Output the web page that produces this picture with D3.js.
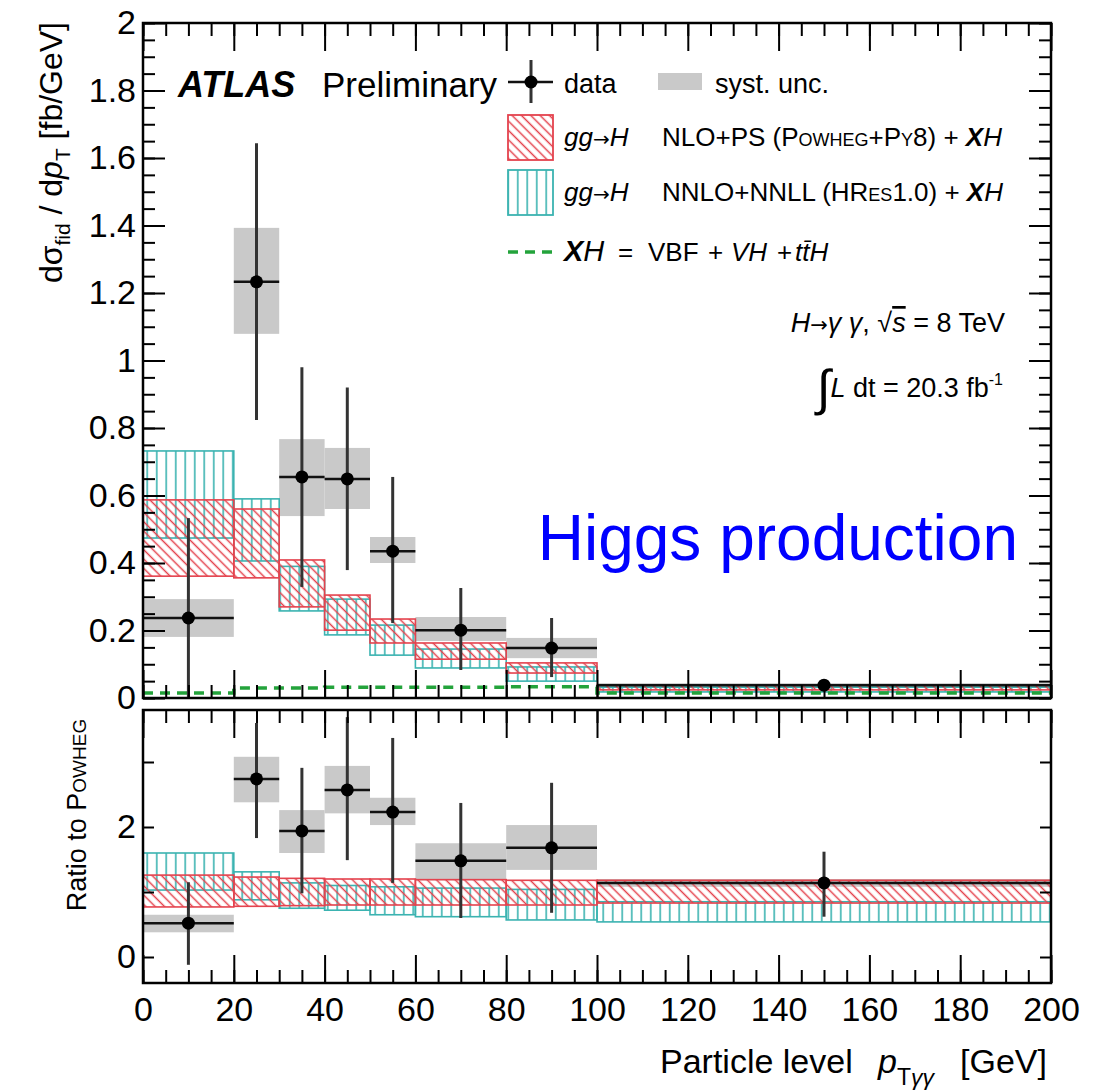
<!DOCTYPE html>
<html>
<head>
<meta charset="utf-8">
<script src="https://cdn.jsdelivr.net/npm/d3@7"></script>
<style>
body { margin: 0; background: #fff; }
text { font-family: "Liberation Sans", Arial, Helvetica, sans-serif; }
</style>
</head>
<body>
<svg id="chart" width="1105" height="1091"></svg>
<script>
// pT bins (GeV)
const binEdges = [0, 20, 30, 40, 50, 60, 80, 100, 200];

// upper panel: d sigma / d pT [fb/GeV]
const dataVal  = [0.237, 1.233, 0.655, 0.649, 0.435, 0.201, 0.148, 0.038];
const statLo   = [-0.05, 0.824, 0.329, 0.379, 0.222, 0.083, 0.062, 0.028];
const statHi   = [0.533, 1.644, 0.980, 0.920, 0.655, 0.326, 0.237, 0.049];
const systLo   = [0.181, 1.079, 0.539, 0.560, 0.400, 0.169, 0.118, 0.033];
const systHi   = [0.293, 1.393, 0.767, 0.741, 0.477, 0.240, 0.178, 0.044];
const powhegLo = [0.361, 0.356, 0.270, 0.201, 0.163, 0.115, 0.074, 0.024];
const powhegHi = [0.587, 0.560, 0.409, 0.305, 0.234, 0.163, 0.104, 0.038];
const hresLo   = [0.474, 0.406, 0.258, 0.187, 0.127, 0.089, 0.050, 0.018];
const hresHi   = [0.732, 0.590, 0.390, 0.293, 0.216, 0.145, 0.092, 0.032];
const xhVal    = [0.015, 0.030, 0.030, 0.032, 0.032, 0.032, 0.033, 0.015];

// lower panel: ratio to POWHEG
const ratioVal    = [0.52, 2.74, 1.94, 2.57, 2.23, 1.48, 1.68, 1.14];
const ratioStatLo = [-0.12, 1.83, 0.98, 1.49, 1.14, 0.60, 0.68, 0.62];
const ratioStatHi = [1.15, 3.60, 2.91, 3.69, 3.37, 2.37, 2.68, 1.62];
const ratioSystLo = [0.38, 2.38, 1.60, 2.21, 2.03, 1.18, 1.34, 1.08];
const ratioSystHi = [0.65, 3.08, 2.26, 2.94, 2.45, 1.75, 2.03, 1.20];
const ratioPowLo  = [0.77, 0.78, 0.79, 0.80, 0.80, 0.80, 0.80, 0.83];
const ratioPowHi  = [1.26, 1.23, 1.21, 1.20, 1.20, 1.19, 1.18, 1.18];
const ratioHresLo = [1.03, 0.88, 0.75, 0.72, 0.65, 0.62, 0.57, 0.54];
const ratioHresHi = [1.60, 1.31, 1.14, 1.10, 1.08, 1.06, 1.04, 0.85];

// ticks
const xMajor = [0, 20, 40, 60, 80, 100, 120, 140, 160, 180, 200];
const yTopMajor = [0, 0.2, 0.4, 0.6, 0.8, 1, 1.2, 1.4, 1.6, 1.8, 2];
const yRatioTicks = [0, 1, 2, 3];
const yRatioLabels = [0, 2];

const RED = "#e4434e";
const CYAN = "#3bb3b1";
const GREEN = "#23a33b";
const GREY = "#c9c9c9";

const svg = d3.select("#chart");
const x = d3.scaleLinear().domain([0, 200]).range([143, 1051]);
const yTop = d3.scaleLinear().domain([0, 2]).range([698, 23]);
const yRat = d3.scaleLinear().domain([-0.4, 3.8]).range([983, 710]);

const bins = binEdges.slice(0, -1).map((lo, i) => ({ lo: lo, hi: binEdges[i + 1], mid: (lo + binEdges[i + 1]) / 2, i: i }));

// hatch patterns
const defs = svg.append("defs");
const pr = defs.append("pattern").attr("id", "hatchRed")
    .attr("patternUnits", "userSpaceOnUse").attr("width", 6.6).attr("height", 6.6)
    .attr("patternTransform", "rotate(-45)");
pr.append("line").attr("x1", 3.3).attr("x2", 3.3).attr("y1", 0).attr("y2", 6.6)
    .attr("stroke", RED).attr("stroke-width", 1.5);
const pc = defs.append("pattern").attr("id", "hatchCyan")
    .attr("patternUnits", "userSpaceOnUse").attr("width", 9.5).attr("height", 10);
pc.append("line").attr("x1", 4.75).attr("x2", 4.75).attr("y1", 0).attr("y2", 10)
    .attr("stroke", CYAN).attr("stroke-width", 1.6);

defs.append("clipPath").attr("id", "clipTop").append("rect")
    .attr("x", 143).attr("y", 23).attr("width", 908).attr("height", 675);
defs.append("clipPath").attr("id", "clipRat").append("rect")
    .attr("x", 143).attr("y", 710).attr("width", 908).attr("height", 273);

function drawPanel(clipId, y, d) {
    const g = svg.append("g").attr("clip-path", `url(#${clipId})`);

    // systematic boxes
    g.selectAll(".syst").data(bins).enter().append("rect")
        .attr("x", b => x(b.lo)).attr("width", b => x(b.hi) - x(b.lo))
        .attr("y", b => y(d.systHi[b.i]))
        .attr("height", b => y(d.systLo[b.i]) - y(d.systHi[b.i]))
        .attr("fill", GREY);

    // theory bands
    g.selectAll(".hres").data(bins).enter().append("rect")
        .attr("x", b => x(b.lo)).attr("width", b => x(b.hi) - x(b.lo))
        .attr("y", b => y(d.hresHi[b.i]))
        .attr("height", b => y(d.hresLo[b.i]) - y(d.hresHi[b.i]))
        .attr("fill", "url(#hatchCyan)").attr("stroke", CYAN).attr("stroke-width", 1.6);

    g.selectAll(".pow").data(bins).enter().append("rect")
        .attr("x", b => x(b.lo)).attr("width", b => x(b.hi) - x(b.lo))
        .attr("y", b => y(d.powHi[b.i]))
        .attr("height", b => y(d.powLo[b.i]) - y(d.powHi[b.i]))
        .attr("fill", "url(#hatchRed)").attr("stroke", RED).attr("stroke-width", 1.6);

    if (d.xh) {
        const pts = bins.map(b => [b.lo, d.xh[b.i]]);
        pts.push([200, d.xh[d.xh.length - 1]]);
        g.append("path")
            .attr("d", d3.line().x(p => x(p[0])).y(p => y(p[1])).curve(d3.curveStepAfter)(pts))
            .attr("fill", "none").attr("stroke", GREEN).attr("stroke-width", 3.5)
            .attr("stroke-dasharray", "10,7");
    }

    // data
    g.selectAll(".ev").data(bins).enter().append("line")
        .attr("x1", b => x(b.mid)).attr("x2", b => x(b.mid))
        .attr("y1", b => y(d.statLo[b.i])).attr("y2", b => y(d.statHi[b.i]))
        .attr("stroke", "#333").attr("stroke-width", 3);
    g.selectAll(".eh").data(bins).enter().append("line")
        .attr("x1", b => x(b.lo)).attr("x2", b => x(b.hi))
        .attr("y1", b => y(d.val[b.i])).attr("y2", b => y(d.val[b.i]))
        .attr("stroke", "#111").attr("stroke-width", 2.5);
    g.selectAll(".pt").data(bins).enter().append("circle")
        .attr("cx", b => x(b.mid)).attr("cy", b => y(d.val[b.i])).attr("r", 6.5)
        .attr("fill", "#000");
}

drawPanel("clipTop", yTop, {
    val: dataVal, statLo: statLo, statHi: statHi, systLo: systLo, systHi: systHi,
    powLo: powhegLo, powHi: powhegHi, hresLo: hresLo, hresHi: hresHi, xh: xhVal
});
drawPanel("clipRat", yRat, {
    val: ratioVal, statLo: ratioStatLo, statHi: ratioStatHi, systLo: ratioSystLo, systHi: ratioSystHi,
    powLo: ratioPowLo, powHi: ratioPowHi, hresLo: ratioHresLo, hresHi: ratioHresHi, xh: null
});

// axes
function styleAxis(g) {
    g.select(".domain").remove();
    g.selectAll("line").attr("stroke", "#000").attr("stroke-width", 2);
    g.attr("font-family", '"Liberation Sans", Arial, sans-serif').attr("font-size", 34).attr("fill", "#000");
}
function xTickRow(yPos, dir, size, values, labels) {
    const ax = d3.axisBottom(x).tickValues(values).tickSizeOuter(0)
        .tickSizeInner(dir * size).tickPadding(14)
        .tickFormat(labels ? d3.format("d") : "");
    svg.append("g").attr("transform", `translate(0,${yPos})`).call(ax).call(styleAxis);
}
const xMinor = d3.range(0, 201, 5);
[[23, 1], [698, -1], [710, 1], [983, -1]].forEach(([yy, dir], k) => {
    xTickRow(yy, dir, 13, xMinor, false);
    xTickRow(yy, dir, 28, xMajor, k === 3);
});

const yMinor = d3.range(0, 2.0001, 0.05);
svg.append("g").attr("transform", "translate(143,0)")
    .call(d3.axisLeft(yTop).tickValues(yMinor).tickSizeInner(-12).tickSizeOuter(0).tickFormat(""))
    .call(styleAxis);
svg.append("g").attr("transform", "translate(143,0)")
    .call(d3.axisLeft(yTop).tickValues(yTopMajor).tickSizeInner(-22).tickSizeOuter(0)
        .tickPadding(7).tickFormat(d3.format("~g")))
    .call(styleAxis);
svg.append("g").attr("transform", "translate(1051,0)")
    .call(d3.axisRight(yTop).tickValues(yMinor).tickSizeInner(-12).tickSizeOuter(0).tickFormat(""))
    .call(styleAxis);
svg.append("g").attr("transform", "translate(1051,0)")
    .call(d3.axisRight(yTop).tickValues(yTopMajor).tickSizeInner(-22).tickSizeOuter(0).tickFormat(""))
    .call(styleAxis);

svg.append("g").attr("transform", "translate(143,0)")
    .call(d3.axisLeft(yRat).tickValues(yRatioTicks).tickSizeInner(-11).tickSizeOuter(0).tickFormat(""))
    .call(styleAxis);
svg.append("g").attr("transform", "translate(143,0)")
    .call(d3.axisLeft(yRat).tickValues(yRatioLabels).tickSizeInner(0).tickSizeOuter(0)
        .tickPadding(7).tickFormat(d3.format("d")))
    .call(styleAxis);
svg.append("g").attr("transform", "translate(1051,0)")
    .call(d3.axisRight(yRat).tickValues(yRatioTicks).tickSizeInner(-11).tickSizeOuter(0).tickFormat(""))
    .call(styleAxis);

// frames
[yTop, yRat].forEach(y => {
    svg.append("rect")
        .attr("x", x(0)).attr("y", y.range()[1])
        .attr("width", x(200) - x(0)).attr("height", y.range()[0] - y.range()[1])
        .attr("fill", "none").attr("stroke", "#000").attr("stroke-width", 2.5);
});

// rich text helper
function rich(parent, xPos, yPos, size, parts, anchor) {
    const t = parent.append("text").attr("x", xPos).attr("y", yPos)
        .attr("font-size", size).attr("text-anchor", anchor || "start").attr("fill", "#000");
    parts.forEach(p => {
        const s = t.append("tspan").text(p.t);
        if (p.i) s.attr("font-style", "italic");
        if (p.b) s.attr("font-weight", "bold");
        if (p.sc) s.style("font-variant", "small-caps");
        if (p.fs) s.attr("font-size", p.fs);
        if (p.ff) s.attr("font-family", p.ff);
        if (p.dy) s.attr("dy", p.dy);
        if (p.x !== undefined) s.attr("x", p.x);
        if (p.ol) s.attr("text-decoration", "overline");
    });
    return t;
}
const ARROW = { t: "→", fs: 20, ff: '"DejaVu Sans", sans-serif' };

// axis titles
rich(svg.append("g").attr("transform", "translate(62,22) rotate(-90)"), 0, 0, 32, [
    { t: "dσ" }, { t: "fid", fs: 21, dy: 8 }, { t: " / d", dy: -8 }, { t: "p", i: true },
    { t: "T", fs: 21, dy: 8 }, { t: "   [fb/GeV]", dy: -8 }
], "end");
rich(svg.append("g").attr("transform", "translate(86,815) rotate(-90)"), 0, 0, 27, [
    { t: "Ratio to " }, { t: "Powheg", sc: true }
], "middle");
rich(svg, 660, 1073, 34, [
    { t: "Particle level" }, { t: "p", i: true, x: 878 }, { t: "T", fs: 23, dy: 12 },
    { t: "γγ", fs: 23, i: true }, { t: "[GeV]", x: 960, dy: -12 }
]);

// legend
rich(svg, 178, 97, 36, [{ t: "ATLAS", b: true, i: true }]);
rich(svg, 322, 97, 35, [{ t: "Preliminary" }]);

svg.append("line").attr("x1", 508).attr("x2", 553).attr("y1", 82).attr("y2", 82)
    .attr("stroke", "#111").attr("stroke-width", 2.5);
svg.append("line").attr("x1", 531).attr("x2", 531).attr("y1", 60).attr("y2", 103)
    .attr("stroke", "#333").attr("stroke-width", 3);
svg.append("circle").attr("cx", 531).attr("cy", 82).attr("r", 6.5).attr("fill", "#000");
rich(svg, 564, 93, 27, [{ t: "data" }]);

svg.append("rect").attr("x", 658).attr("y", 73).attr("width", 44).attr("height", 17).attr("fill", GREY);
rich(svg, 715, 93, 27, [{ t: "syst. unc." }]);

svg.append("rect").attr("x", 508).attr("y", 115).attr("width", 45).attr("height", 45)
    .attr("fill", "url(#hatchRed)").attr("stroke", RED).attr("stroke-width", 1.8);
rich(svg, 564, 146, 26, [
    { t: "gg", i: true }, ARROW, { t: "H", i: true },
    { t: "NLO+PS (", x: 662 }, { t: "Powheg+Py8", sc: true }, { t: ") + " },
    { t: "X", b: true, i: true }, { t: "H", i: true }
]);

svg.append("rect").attr("x", 508).attr("y", 170).attr("width", 45).attr("height", 45)
    .attr("fill", "url(#hatchCyan)").attr("stroke", CYAN).attr("stroke-width", 1.8);
rich(svg, 564, 201, 26, [
    { t: "gg", i: true }, ARROW, { t: "H", i: true },
    { t: "NNLO+NNLL (", x: 662 }, { t: "HRes", sc: true }, { t: "1.0) + " },
    { t: "X", b: true, i: true }, { t: "H", i: true }
]);

svg.append("line").attr("x1", 508).attr("x2", 553).attr("y1", 252).attr("y2", 252)
    .attr("stroke", GREEN).attr("stroke-width", 3.5).attr("stroke-dasharray", "10,7");
rich(svg, 564, 261, 26, [
    { t: "X", b: true, i: true, fs: 29 }, { t: "H", i: true, fs: 29 },
    { t: "=", x: 618 }, { t: "VBF", x: 648 }, { t: "+", x: 708 },
    { t: "VH", i: true, x: 731 }, { t: "+", x: 777 }, { t: "tt\u0304H", i: true, x: 795 }
]);

// labels on the right
rich(svg, 1005, 332, 27, [
    { t: "H", i: true }, { t: "→", fs: 21, ff: '"DejaVu Sans", sans-serif' }, { t: "γ γ", i: true }, { t: ", √" },
    { t: "s", i: true, ol: true }, { t: " = 8 TeV" }
], "end");
rich(svg, 1003, 397, 27, [
    { t: "∫", fs: 50, dy: 8 }, { t: "L", i: true, dy: -8 }, { t: " dt = 20.3 fb" },
    { t: "-1", fs: 16, dy: -12 }
], "end");

svg.append("text").attr("x", 1018).attr("y", 560).attr("text-anchor", "end")
    .attr("font-size", 64).attr("fill", "#0000ff").text("Higgs production");
</script>
</body>
</html>
